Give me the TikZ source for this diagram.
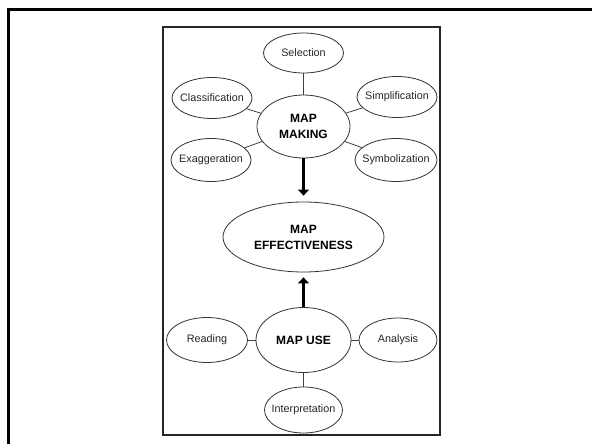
\documentclass[tikz,border=0pt]{standalone}
\usepackage{fontspec}
\setmainfont{Liberation Sans}
\usetikzlibrary{shapes.geometric,arrows.meta}
\begin{document}
\begin{tikzpicture}[x=1pt,y=1pt,
  oval/.style={ellipse,draw=black!80,line width=0.8pt,inner xsep=-12pt,inner ysep=-3pt,
    font=\fontsize{10.8}{13}\selectfont,text=black!85},
  bigoval/.style={oval,font=\bfseries\fontsize{12}{16}\selectfont,align=center,text=black},
  link/.style={draw=black!75,line width=0.8pt},
  bigarrow/.style={line width=3pt,-{Triangle[length=6pt,width=11pt]}}
]
\useasboundingbox (0,0) rectangle (592,-444);
\fill[white] (0,0) rectangle (592,-444);
% outer frame (cropped)
\draw[line width=3pt] (8,-444) -- (8,-10) -- (592,-10);
% inner frame
\draw[line width=1.3pt,draw=black!85] (163,-27) rectangle (440,-435);
% nodes
\node[oval,minimum width=80pt,minimum height=40pt] (sel) at (303.5,-53) {Selection};
\node[oval,minimum width=80pt,minimum height=41pt] (cla) at (212,-98) {Classification};
\node[oval,minimum width=80pt,minimum height=41pt] (sim) at (397,-97) {Simplification};
\node[bigoval,minimum width=93pt,minimum height=63pt] (mm) at (303.5,-126.5) {MAP\\MAKING};
\node[oval,minimum width=80pt,minimum height=43pt] (exa) at (211,-160) {Exaggeration};
\node[oval,minimum width=82pt,minimum height=43pt] (sym) at (396,-160) {Symbolization};
\node[bigoval,minimum width=161pt,minimum height=70pt] (eff) at (303.5,-237) {MAP\\EFFECTIVENESS};
\node[bigoval,minimum width=95pt,minimum height=65pt] (use) at (303.5,-340) {MAP USE};
\node[oval,minimum width=81pt,minimum height=45pt] (rea) at (207,-340) {Reading};
\node[oval,minimum width=78pt,minimum height=44pt] (ana) at (398,-340) {Analysis};
\node[oval,minimum width=78pt,minimum height=46pt] (int) at (303.5,-410) {Interpretation};
% connectors
\path[link] (mm) -- (sel);
\path[link] (mm) -- (cla);
\path[link] (mm) -- (sim);
\path[link] (mm) -- (exa);
\path[link] (mm) -- (sym);
\path[link] (use) -- (rea);
\path[link] (use) -- (ana);
\path[link] (use) -- (int);
% arrows
\draw[bigarrow,shorten >=6pt] (mm.south) -- (eff.north);
\draw[bigarrow,shorten >=5pt] (use.north) -- (eff.south);
\end{tikzpicture}
\end{document}
